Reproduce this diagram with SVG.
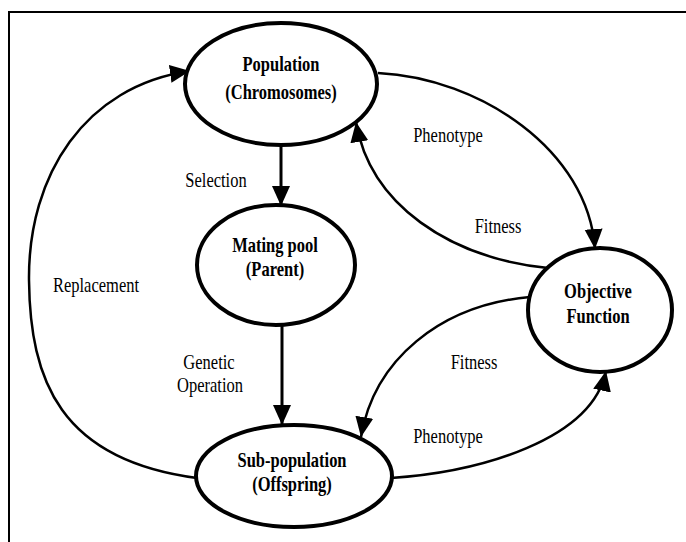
<svg xmlns="http://www.w3.org/2000/svg" width="686" height="542" viewBox="0 0 686 542">
<defs>
<style>
.node{fill:#fff;stroke:#000;stroke-width:4}
.nt{font-family:'Liberation Serif','DejaVu Serif','Times New Roman',serif;font-size:16.5px;font-weight:bold;text-anchor:middle;fill:#000}
.lbl{font-family:'Liberation Serif','DejaVu Serif','Times New Roman',serif;font-size:16.5px;font-weight:normal;text-anchor:middle;fill:#000}
.edge{fill:none;stroke:#000;stroke-width:2.5}
.shaft{fill:none;stroke:#000;stroke-width:3}
</style>
<marker id="ah" markerUnits="userSpaceOnUse" markerWidth="22" markerHeight="20" refX="20" refY="9" orient="auto" viewBox="0 0 22 20">
<path d="M0,0 L20,9 L0,18 z" fill="#000"/>
</marker>
</defs>
<rect width="686" height="542" fill="#fff"/>
<rect x="9" y="12" width="700" height="600" fill="none" stroke="#000" stroke-width="2"/>
<g id="connectors">
<path class="shaft" d="M281,146 L281,206" marker-end="url(#ah)"/>
<path class="shaft" d="M282,325 L282,425" marker-end="url(#ah)"/>
<path class="edge" d="M378,73 C480,78 588,150 595,249" marker-end="url(#ah)"/>
<path class="edge" d="M548,268 C450,258 370,205 356,122" marker-end="url(#ah)"/>
<path class="edge" d="M530,297 C440,305 374,360 361,437" marker-end="url(#ah)"/>
<path class="edge" d="M391,478 C480,472 592,440 606,371" marker-end="url(#ah)"/>
<path class="edge" d="M197,478 C60,460 30,380 29,280 C28,175 85,86 190,71" marker-end="url(#ah)"/>
</g>
<g id="labels" font-family="Liberation Serif, DejaVu Serif, serif">
<text class="lbl" transform="translate(216,187) scale(1,1.3)">Selection</text>
<text class="lbl" transform="translate(448,142) scale(1,1.3)">Phenotype</text>
<text class="lbl" transform="translate(498,233) scale(1,1.3)">Fitness</text>
<text class="lbl" transform="translate(96,292) scale(1,1.3)">Replacement</text>
<text class="lbl" transform="translate(209,369) scale(1,1.3)">Genetic</text>
<text class="lbl" transform="translate(210,392) scale(1,1.3)">Operation</text>
<text class="lbl" transform="translate(474,369) scale(1,1.3)">Fitness</text>
<text class="lbl" transform="translate(448,443) scale(1,1.3)">Phenotype</text>
</g>
<g id="population" font-family="Liberation Serif, DejaVu Serif, serif">
<ellipse class="node" cx="281" cy="84" rx="96" ry="61"/>
<text class="nt" transform="translate(281,71) scale(1,1.3)">Population</text>
<text class="nt" transform="translate(281,99) scale(1,1.3)">(Chromosomes)</text>
</g>
<g id="mating-pool" font-family="Liberation Serif, DejaVu Serif, serif">
<ellipse class="node" cx="276" cy="265" rx="79" ry="60"/>
<text class="nt" transform="translate(275,252) scale(1,1.3)">Mating pool</text>
<text class="nt" transform="translate(275,276) scale(1,1.3)">(Parent)</text>
</g>
<g id="objective-function" font-family="Liberation Serif, DejaVu Serif, serif">
<ellipse class="node" cx="600" cy="310" rx="72" ry="62"/>
<text class="nt" transform="translate(598,298) scale(1,1.3)">Objective</text>
<text class="nt" transform="translate(598,323) scale(1,1.3)">Function</text>
</g>
<g id="sub-population" font-family="Liberation Serif, DejaVu Serif, serif">
<ellipse class="node" cx="294" cy="476" rx="98" ry="51"/>
<text class="nt" transform="translate(292,467) scale(1,1.3)">Sub-population</text>
<text class="nt" transform="translate(292,491) scale(1,1.3)">(Offspring)</text>
</g>
</svg>
